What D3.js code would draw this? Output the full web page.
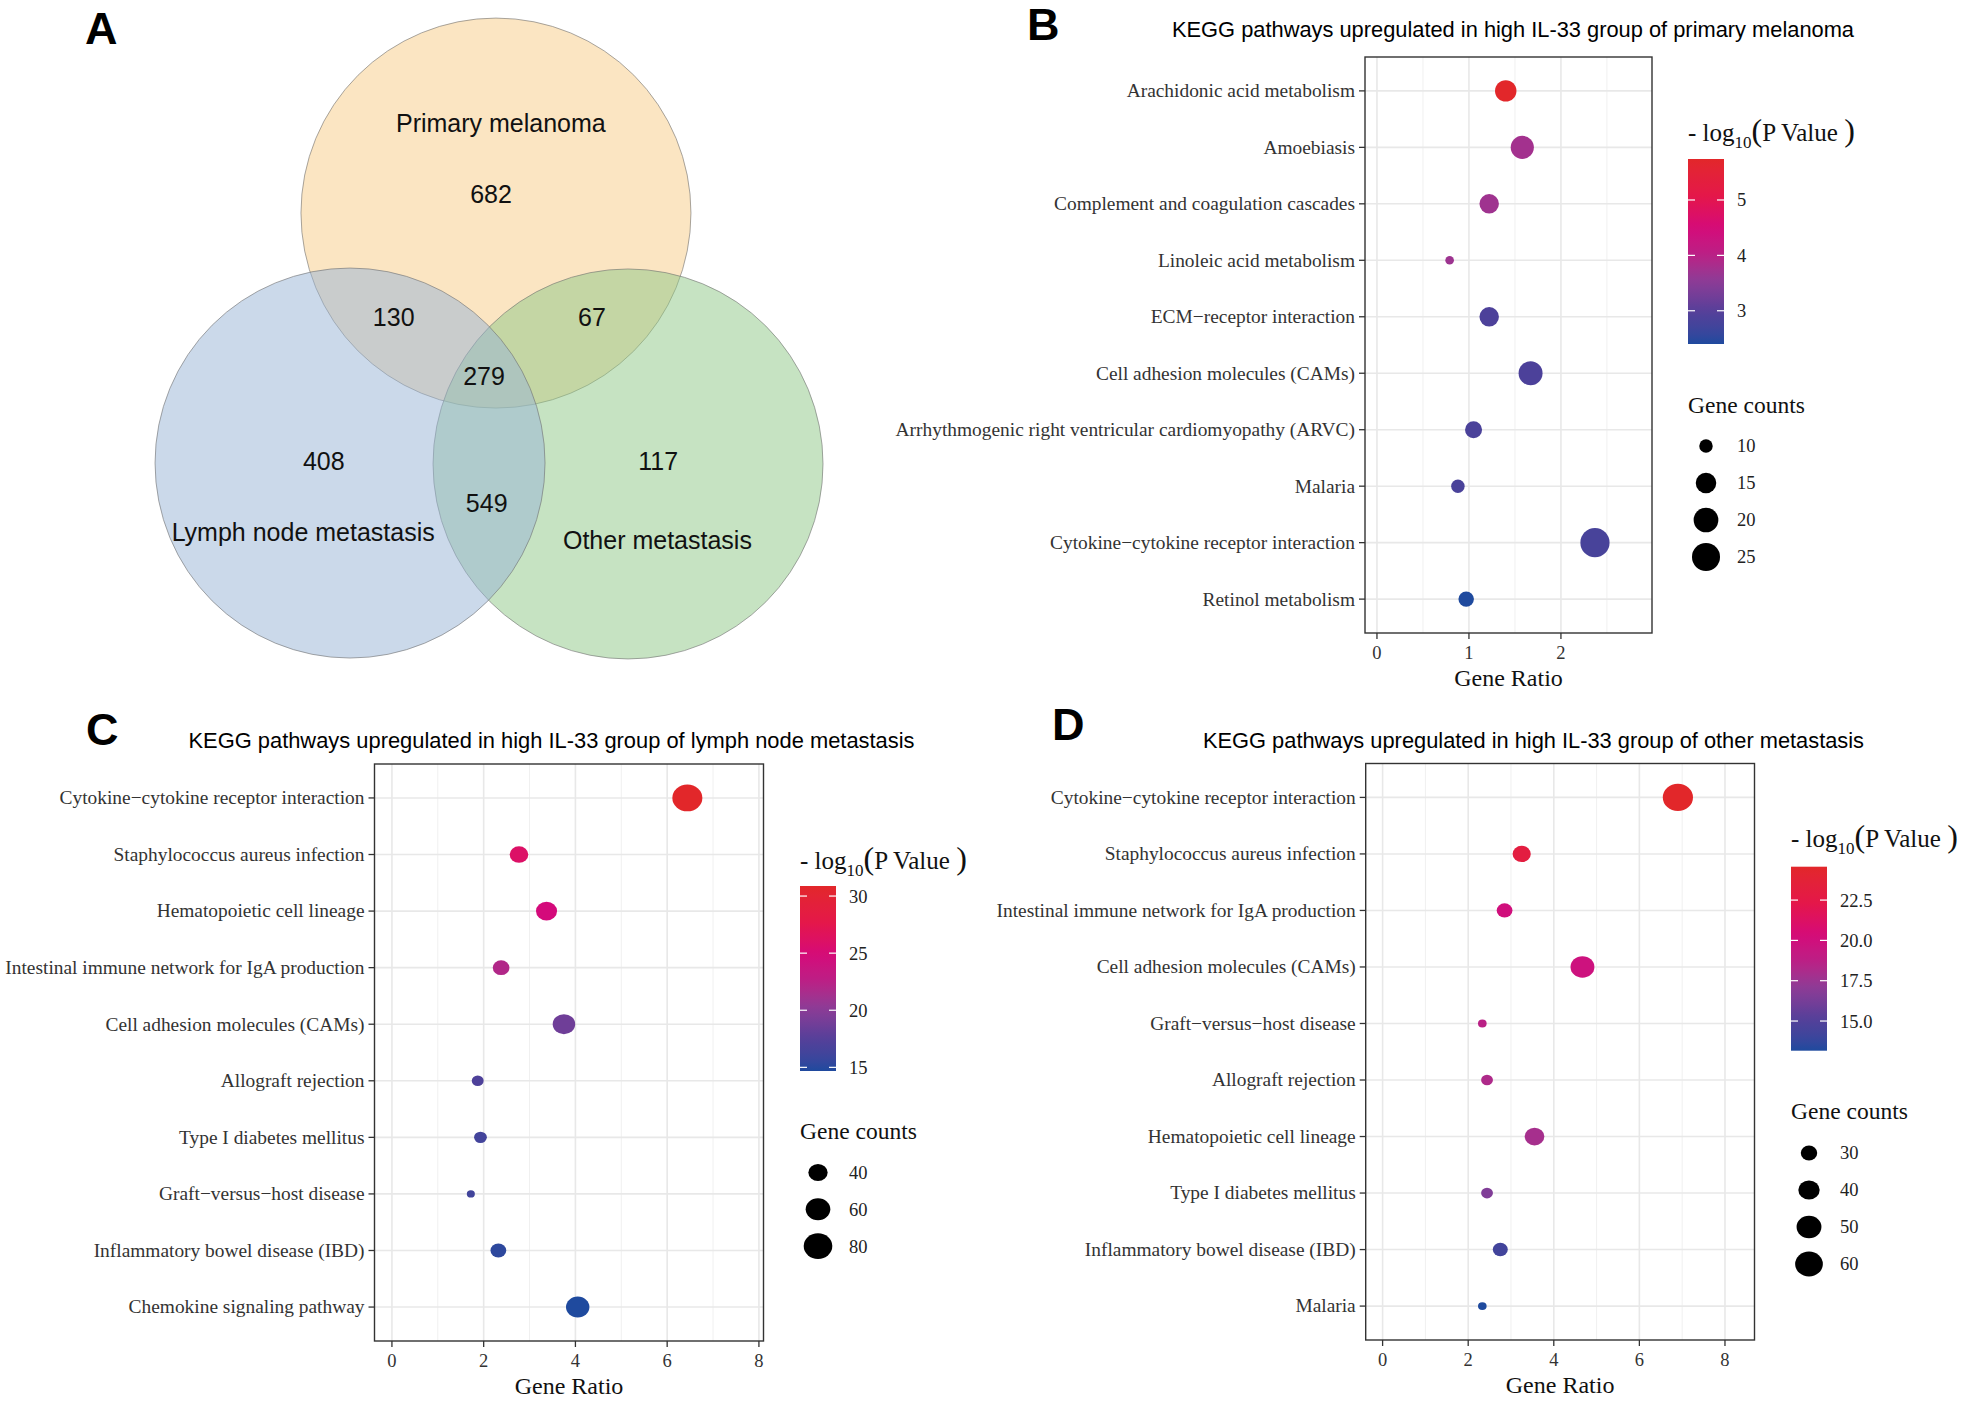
<!DOCTYPE html>
<html>
<head>
<meta charset="utf-8">
<script src="https://cdn.jsdelivr.net/npm/d3@7"></script>
<style>
  body { margin: 0; background: #fff; }
  svg { display: block; }
</style>
</head>
<body>
<div id="chart"></div>
<script>
// ---------------- data ----------------
var vennSets = ["Primary melanoma", "Lymph node metastasis", "Other metastasis"]
// region keys use the index of the sets involved
var vennKeys = ["0", "1", "2", "01", "02", "12", "012"]
var vennCounts = [682, 408, 117, 130, 67, 549, 279]

var pathwaysB = ["Arachidonic acid metabolism", "Amoebiasis", "Complement and coagulation cascades",
  "Linoleic acid metabolism", "ECM\u2212receptor interaction", "Cell adhesion molecules (CAMs)",
  "Arrhythmogenic right ventricular cardiomyopathy (ARVC)", "Malaria",
  "Cytokine\u2212cytokine receptor interaction", "Retinol metabolism"]
var ratioB = [1.40, 1.58, 1.22, 0.79, 1.22, 1.67, 1.05, 0.88, 2.37, 0.97]
var countB = [16, 18, 14, 9, 14, 19, 12, 10, 27, 11]
var logpB = [5.74, 3.76, 3.72, 3.70, 2.88, 2.86, 2.85, 2.83, 2.80, 2.40]

var pathwaysC = ["Cytokine\u2212cytokine receptor interaction", "Staphylococcus aureus infection",
  "Hematopoietic cell lineage", "Intestinal immune network for IgA production",
  "Cell adhesion molecules (CAMs)", "Allograft rejection", "Type I diabetes mellitus",
  "Graft\u2212versus\u2212host disease", "Inflammatory bowel disease (IBD)", "Chemokine signaling pathway"]
var ratioC = [6.44, 2.77, 3.37, 2.38, 3.75, 1.87, 1.93, 1.72, 2.32, 4.05]
var countC = [88, 38, 46, 33, 51, 25, 26, 23, 31, 55]
var logpC = [30.88, 26.0, 24.7, 22.0, 18.7, 17.1, 16.3, 16.2, 15.2, 14.68]

var pathwaysD = ["Cytokine\u2212cytokine receptor interaction", "Staphylococcus aureus infection",
  "Intestinal immune network for IgA production", "Cell adhesion molecules (CAMs)",
  "Graft\u2212versus\u2212host disease", "Allograft rejection", "Hematopoietic cell lineage",
  "Type I diabetes mellitus", "Inflammatory bowel disease (IBD)", "Malaria"]
var ratioD = [6.90, 3.25, 2.85, 4.67, 2.33, 2.44, 3.55, 2.44, 2.75, 2.33]
var countD = [70, 33, 29, 47, 24, 25, 36, 25, 28, 24]
var logpD = [24.57, 23.0, 20.0, 19.8, 18.6, 18.2, 17.9, 16.6, 14.3, 13.16]

var xTicksB = [0, 1, 2]
var xTicksCD = [0, 2, 4, 6, 8]
var colorTicksB = [3, 4, 5]
var colorTicksC = [15, 20, 25, 30]
var colorTicksD = [15, 17.5, 20, 22.5]
var sizeBreaksB = [10, 15, 20, 25]
var sizeBreaksC = [40, 60, 80]
var sizeBreaksD = [30, 40, 50, 60]

// ---------------- setup ----------------
var width = 1965
var height = 1401
var serif = "'Liberation Serif','Times New Roman',serif"
var sans = "'Liberation Sans',Arial,sans-serif"

var svg = d3.select("#chart")
    .append("svg")
    .attr("width", width)
    .attr("height", height)
svg.append("rect").attr("width", width).attr("height", height).attr("fill", "#fff")

// colour ramp used by all dot plots (0 = lowest -log10 p, 1 = highest)
var ramp = d3.scaleLinear()
    .domain([0, 0.17, 0.33, 0.48, 0.62, 0.8, 1])
    .range(["#1F4A9E", "#533F99", "#893C97", "#BA1F85", "#D40A7B", "#E4174A", "#E2272A"])
    .interpolate(d3.interpolateLab)

function panelLetter(t, x, y) {
    svg.append("text")
        .attr("x", x).attr("y", y)
        .style("font-family", sans).style("font-weight", "bold").style("font-size", "45px")
        .text(t)
}

// ---------------- A: venn ----------------
var venn = {cx: 491, cy: 380, r: 195}
// direction and distance of each circle centre from the middle of the diagram
var setPolar = [[-88.3, 167], [149.5, 163.6], [31.5, 160.7]]
var setFill = ["#F8CC86", "#97B4D6", "#8DC786"]
var setLabelPolar = [[-87.8, 257], [140.9, 242], [43.9, 231]]
var regionPolar = [[-90, 186], [154, 186], [26, 186], [213, 116], [-32, 119], [92, 123], [0, 0]]
var rad = Math.PI / 180
var polar = (p) => [venn.cx + p[1] * Math.cos(p[0] * rad), venn.cy + p[1] * Math.sin(p[0] * rad)]

var gA = svg.append("g")
gA.selectAll("circle")
    .data([0, 2, 1])
    .enter()
    .append("circle")
        .attr("cx", i => polar(setPolar[i])[0])
        .attr("cy", i => polar(setPolar[i])[1])
        .attr("r", venn.r)
        .style("fill", i => setFill[i])
        .style("fill-opacity", 0.5)
        .style("stroke", "#6f6f6f")
        .style("stroke-opacity", 0.6)
        .style("stroke-width", 1)

gA.selectAll(".setlab")
    .data(vennSets)
    .enter()
    .append("text")
        .attr("x", (d, i) => polar(setLabelPolar[i])[0])
        .attr("y", (d, i) => polar(setLabelPolar[i])[1])
        .attr("dy", "0.35em")
        .attr("text-anchor", "middle")
        .style("font-family", sans).style("font-size", "25px").style("fill", "#111")
        .text(d => d)

gA.selectAll(".count")
    .data(vennKeys)
    .enter()
    .append("text")
        .attr("x", (d, i) => polar(regionPolar[i])[0] - (d.length == 3 ? 7 : 0))
        .attr("y", (d, i) => polar(regionPolar[i])[1] - (d.length == 3 ? 4 : 0))
        .attr("dy", "0.35em")
        .attr("text-anchor", "middle")
        .style("font-family", sans).style("font-size", "25px").style("fill", "#111")
        .text((d, i) => vennCounts[i])

panelLetter("A", 85, 44)

// ---------------- B, C, D: dot plots ----------------
function dotPanel(cfg) {
    var b = cfg.box
    var g = svg.append("g")
    var x = d3.scaleLinear().domain(cfg.xDomain).range([b.x0, b.x1])
    var y = d3.scalePoint().domain(cfg.pathways).range([b.y0, b.y1]).padding(0.6)
    var cExt = d3.extent(cfg.logp)
    var cPos = d3.scaleLinear().domain(cExt).range([0, 1])
    var color = v => ramp(cPos(v))
    var sPos = d3.scaleLinear().domain(d3.extent(cfg.counts)).range([0, 1]).clamp(true)
    var radius = v => cfg.rRange[0] + (cfg.rRange[1] - cfg.rRange[0]) * Math.sqrt(sPos(v))

    // title
    g.append("text")
        .attr("x", cfg.title.x - cfg.title.w / 2).attr("y", cfg.title.y)
        .attr("textLength", cfg.title.w).attr("lengthAdjust", "spacingAndGlyphs")
        .style("font-family", sans).style("font-size", "21.5px")
        .text(cfg.title.text)

    // grid
    var step = cfg.xTicks[1] - cfg.xTicks[0]
    var minor = d3.range(cfg.xTicks[0] + step / 2, cfg.xDomain[1], step)
    g.append("g").selectAll("line")
        .data(minor)
        .enter().append("line")
            .attr("x1", d => x(d)).attr("x2", d => x(d))
            .attr("y1", b.y0).attr("y2", b.y1)
            .style("stroke", "#F0F0F0").style("stroke-width", 1)
    g.append("g").selectAll("line")
        .data(cfg.xTicks)
        .enter().append("line")
            .attr("x1", d => x(d)).attr("x2", d => x(d))
            .attr("y1", b.y0).attr("y2", b.y1)
            .style("stroke", "#E8E8E8").style("stroke-width", 1.6)
    g.append("g").selectAll("line")
        .data(cfg.pathways)
        .enter().append("line")
            .attr("x1", b.x0).attr("x2", b.x1)
            .attr("y1", d => y(d)).attr("y2", d => y(d))
            .style("stroke", "#E8E8E8").style("stroke-width", 1.6)

    // points
    g.append("g").selectAll("ellipse")
        .data(cfg.pathways)
        .enter().append("ellipse")
            .attr("cx", (d, i) => x(cfg.ratio[i]))
            .attr("cy", d => y(d))
            .attr("rx", (d, i) => radius(cfg.counts[i]) * cfg.aspect)
            .attr("ry", (d, i) => radius(cfg.counts[i]))
            .style("fill", (d, i) => color(cfg.logp[i]))

    // border
    g.append("rect")
        .attr("x", b.x0).attr("y", b.y0)
        .attr("width", b.x1 - b.x0).attr("height", b.y1 - b.y0)
        .style("fill", "none").style("stroke", "#333").style("stroke-width", 1.4)

    // y axis
    var ya = g.append("g").selectAll("g")
        .data(cfg.pathways)
        .enter().append("g")
    ya.append("line")
        .attr("x1", b.x0 - 6).attr("x2", b.x0)
        .attr("y1", d => y(d)).attr("y2", d => y(d))
        .style("stroke", "#333").style("stroke-width", 1.3)
    ya.append("text")
        .attr("x", b.x0 - 10).attr("y", d => y(d))
        .attr("dy", "0.33em").attr("text-anchor", "end")
        .style("font-family", serif).style("font-size", "19.4px").style("fill", "#333")
        .text(d => d)

    // x axis
    var xa = g.append("g").selectAll("g")
        .data(cfg.xTicks)
        .enter().append("g")
    xa.append("line")
        .attr("x1", d => x(d)).attr("x2", d => x(d))
        .attr("y1", b.y1).attr("y2", b.y1 + 6)
        .style("stroke", "#333").style("stroke-width", 1.3)
    xa.append("text")
        .attr("x", d => x(d)).attr("y", b.y1 + 26)
        .attr("text-anchor", "middle")
        .style("font-family", serif).style("font-size", "18.5px").style("fill", "#333")
        .text(d => d)
    g.append("text")
        .attr("x", (b.x0 + b.x1) / 2).attr("y", b.y1 + 53)
        .attr("text-anchor", "middle")
        .style("font-family", serif).style("font-size", "24px").style("fill", "#111")
        .text("Gene Ratio")

    // colour legend
    var L = cfg.legend
    var lt = g.append("text")
        .attr("x", L.x).attr("y", L.titleY)
        .attr("dy", "0.35em")
        .style("font-family", serif).style("font-size", "25px").style("fill", "#111")
    lt.append("tspan").text("- log")
    lt.append("tspan").attr("dy", 7).style("font-size", "17px").text("10")
    lt.append("tspan").attr("dy", -7).style("font-size", "32px").text("(")
    lt.append("tspan").text("P Value ")
    lt.append("tspan").style("font-size", "32px").text(")")

    var gid = "grad" + cfg.id
    var grad = svg.append("defs").append("linearGradient")
        .attr("id", gid).attr("x1", 0).attr("x2", 0).attr("y1", 1).attr("y2", 0)
    grad.selectAll("stop")
        .data(d3.range(0, 1.0001, 0.05))
        .enter().append("stop")
            .attr("offset", d => d)
            .attr("stop-color", d => ramp(d))
    var barW = 36
    g.append("rect")
        .attr("x", L.x).attr("y", L.barY0)
        .attr("width", barW).attr("height", L.barY1 - L.barY0)
        .style("fill", "url(#" + gid + ")")
    var cy = d3.scaleLinear().domain(cExt).range([L.barY1, L.barY0])
    var ct = g.append("g").selectAll("g")
        .data(cfg.colorTicks)
        .enter().append("g")
    ct.append("line")
        .attr("x1", L.x).attr("x2", L.x + 7)
        .attr("y1", d => cy(d)).attr("y2", d => cy(d))
        .style("stroke", "#fff").style("stroke-width", 1.2)
    ct.append("line")
        .attr("x1", L.x + barW - 7).attr("x2", L.x + barW)
        .attr("y1", d => cy(d)).attr("y2", d => cy(d))
        .style("stroke", "#fff").style("stroke-width", 1.2)
    ct.append("text")
        .attr("x", L.x + 49).attr("y", d => cy(d))
        .attr("dy", "0.35em")
        .style("font-family", serif).style("font-size", "18.5px").style("fill", "#222")
        .text(d => d3.format(cfg.colorFmt)(d))

    // size legend
    g.append("text")
        .attr("x", L.x).attr("y", L.gcTitleY)
        .attr("dy", "0.35em")
        .style("font-family", serif).style("font-size", "23.5px").style("fill", "#111")
        .text("Gene counts")
    var sk = g.append("g").selectAll("g")
        .data(cfg.sizeBreaks)
        .enter().append("g")
    sk.append("ellipse")
        .attr("cx", L.x + 18).attr("cy", (d, i) => L.keyY0 + i * L.keyStep)
        .attr("rx", d => radius(d) * cfg.aspect).attr("ry", d => radius(d))
        .style("fill", "#000")
    sk.append("text")
        .attr("x", L.x + 49).attr("y", (d, i) => L.keyY0 + i * L.keyStep)
        .attr("dy", "0.35em")
        .style("font-family", serif).style("font-size", "18.5px").style("fill", "#222")
        .text(d => d)
}

dotPanel({
    id: "B",
    pathways: pathwaysB, ratio: ratioB, counts: countB, logp: logpB,
    xTicks: xTicksB, xDomain: [-0.13, 2.99],
    colorTicks: colorTicksB, colorFmt: "d", sizeBreaks: sizeBreaksB,
    box: {x0: 1365, x1: 1652, y0: 57, y1: 633},
    title: {x: 1513, y: 37, w: 682, text: "KEGG pathways upregulated in high IL-33 group of primary melanoma"},
    legend: {x: 1688, titleY: 132, barY0: 159, barY1: 344, gcTitleY: 405, keyY0: 446, keyStep: 37},
    aspect: 1, rRange: [4.3, 14.6]
})
panelLetter("B", 1027, 40)

dotPanel({
    id: "C",
    pathways: pathwaysC, ratio: ratioC, counts: countC, logp: logpC,
    xTicks: xTicksCD, xDomain: [-0.38, 8.10],
    colorTicks: colorTicksC, colorFmt: "d", sizeBreaks: sizeBreaksC,
    box: {x0: 374.5, x1: 763.5, y0: 764, y1: 1341},
    title: {x: 551.5, y: 748, w: 726, text: "KEGG pathways upregulated in high IL-33 group of lymph node metastasis"},
    legend: {x: 800, titleY: 860, barY0: 886, barY1: 1071, gcTitleY: 1131, keyY0: 1172.5, keyStep: 36.8},
    aspect: 1.12, rRange: [3.6, 13.4]
})
panelLetter("C", 86, 745)

dotPanel({
    id: "D",
    pathways: pathwaysD, ratio: ratioD, counts: countD, logp: logpD,
    xTicks: xTicksCD, xDomain: [-0.395, 8.69],
    colorTicks: colorTicksD, colorFmt: ".1f", sizeBreaks: sizeBreaksD,
    box: {x0: 1365.7, x1: 1754.5, y0: 763.5, y1: 1340},
    title: {x: 1533.5, y: 748, w: 661, text: "KEGG pathways upregulated in high IL-33 group of other metastasis"},
    legend: {x: 1791, titleY: 838, barY0: 866.7, barY1: 1050.7, gcTitleY: 1111, keyY0: 1153, keyStep: 37},
    aspect: 1.11, rRange: [3.9, 13.6]
})
panelLetter("D", 1052, 740)
</script>
</body>
</html>
